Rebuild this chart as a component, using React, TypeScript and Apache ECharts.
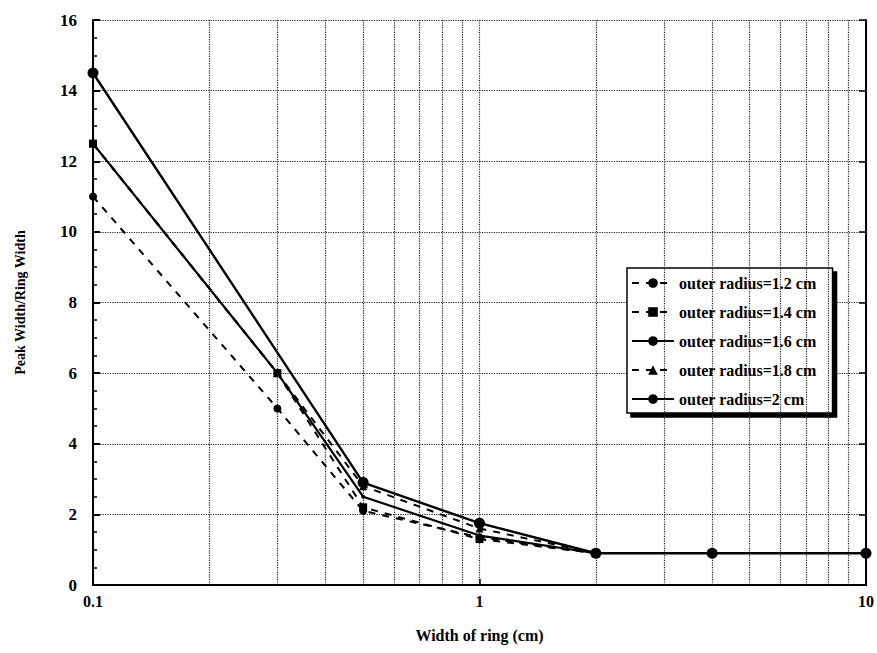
import React, { useEffect, useRef } from "react";
import * as echarts from "echarts";

const xTicks = [0.1, 1, 10];
const yMin = 0;
const yMax = 16;
const minorX = [0.2, 0.3, 0.4, 0.5, 0.6, 0.7, 0.8, 0.9, 2, 3, 4, 5, 6, 7, 8, 9];

const seriesNames = [
  "outer radius=1.2 cm",
  "outer radius=1.4 cm",
  "outer radius=1.6 cm",
  "outer radius=1.8 cm",
  "outer radius=2 cm",
];

const r12: [number, number][] = [[0.1, 11.0], [0.3, 5.0], [0.5, 2.1], [1, 1.35], [2, 0.9]];
const r14: [number, number][] = [[0.1, 12.5], [0.3, 6.0], [0.5, 2.2], [1, 1.3], [2, 0.9]];
const r16: [number, number][] = [[0.1, 12.5], [0.3, 6.0], [0.5, 2.5], [1, 1.4], [2, 0.9]];
const r18: [number, number][] = [[0.1, 12.5], [0.3, 6.0], [0.5, 2.8], [1, 1.6], [2, 0.9]];
const r20: [number, number][] = [[0.1, 14.5], [0.5, 2.9], [1, 1.75], [2, 0.9], [4, 0.9], [10, 0.9]];

const FONT = "'Liberation Serif', 'Times New Roman', serif";

export default function App() {
  const ref = useRef<HTMLDivElement>(null);
  useEffect(() => {
    document.body.style.margin = "0";
    if (!ref.current) return;
    const chart = echarts.init(ref.current, undefined, { renderer: "svg" });
    const lineBase = { type: "line", color: "#000", z: 5 };
    const option: any = {
      animation: false,
      backgroundColor: "#fff",
      grid: { left: 93, top: 20, width: 773, height: 565 },
      legend: {
        orient: "vertical",
        left: 627,
        top: 268,
        padding: [7, 16, 6, 4],
        itemWidth: 42,
        itemHeight: 12,
        itemGap: 13,
        backgroundColor: "#fff",
        borderColor: "#000",
        borderWidth: 1.5,
        shadowColor: "#000",
        shadowBlur: 0,
        shadowOffsetX: 4,
        shadowOffsetY: 4,
        textStyle: { fontFamily: FONT, fontWeight: "bold", fontSize: 16, color: "#000" },
        data: seriesNames,
      },
      xAxis: [
        {
          type: "log",
          logBase: 10,
          min: 0.1,
          max: 10,
          name: "Width of ring (cm)",
          nameLocation: "middle",
          nameGap: 42,
          nameTextStyle: { fontFamily: FONT, fontWeight: "bold", fontSize: 16, color: "#000" },
          axisLine: { show: true, lineStyle: { color: "#000", width: 2 } },
          axisTick: { show: true, inside: true, length: 6, lineStyle: { color: "#000", width: 1.5 } },
          axisLabel: {
            fontFamily: FONT,
            fontWeight: "bold",
            fontSize: 16,
            color: "#000",
            margin: 8,
            formatter: (v: number) => (xTicks.some((t) => Math.abs(t - v) < 1e-9) ? String(v) : ""),
          },
          splitLine: { show: true, lineStyle: { type: "dotted", color: "#222", width: 1.2 } },
        },
        {
          type: "log",
          logBase: 10,
          min: 0.1,
          max: 10,
          position: "top",
          axisLine: { show: true, lineStyle: { color: "#000", width: 2 } },
          axisTick: { show: false },
          axisLabel: { show: false },
          splitLine: { show: false },
        },
      ],
      yAxis: [
        {
          type: "value",
          min: yMin,
          max: yMax,
          interval: 2,
          name: "Peak Width/Ring Width",
          nameLocation: "middle",
          nameGap: 66,
          nameTextStyle: { fontFamily: FONT, fontWeight: "bold", fontSize: 14, color: "#000" },
          axisLine: { show: true, lineStyle: { color: "#000", width: 2 } },
          axisTick: { show: true, inside: true, length: 7, lineStyle: { color: "#000", width: 2 } },
          minorTick: { show: true, splitNumber: 4, length: 4, lineStyle: { color: "#000", width: 1.5 } },
          axisLabel: { fontFamily: FONT, fontWeight: "bold", fontSize: 17, color: "#000", margin: 16 },
          splitLine: { show: true, lineStyle: { type: "dotted", color: "#222", width: 1.2 } },
        },
        {
          type: "value",
          min: yMin,
          max: yMax,
          interval: 2,
          position: "right",
          axisLine: { show: true, lineStyle: { color: "#000", width: 2 } },
          axisTick: { show: true, inside: true, length: 7, lineStyle: { color: "#000", width: 1.5 } },
          axisLabel: { show: false },
          splitLine: { show: false },
        },
      ],
      series: [
        {
          name: "__grid",
          type: "line",
          data: [],
          silent: true,
          markLine: {
            silent: true,
            symbol: "none",
            label: { show: false },
            lineStyle: { type: "dotted", color: "#222", width: 1.2 },
            data: minorX.map((v) => ({ xAxis: v })),
          },
        },
        {
          ...lineBase,
          name: seriesNames[0],
          data: r12,
          symbol: "circle",
          symbolSize: 8,
          itemStyle: { color: "#000" },
          lineStyle: { color: "#000", width: 2, type: [7, 7] },
        },
        {
          ...lineBase,
          name: seriesNames[1],
          data: r14,
          symbol: "rect",
          symbolSize: 8,
          itemStyle: { color: "#000" },
          lineStyle: { color: "#000", width: 2, type: [7, 7] },
        },
        {
          ...lineBase,
          name: seriesNames[2],
          data: r16,
          symbol: "circle",
          symbolSize: 4,
          itemStyle: { color: "#000" },
          lineStyle: { color: "#000", width: 2.2 },
        },
        {
          ...lineBase,
          name: seriesNames[3],
          data: r18,
          symbol: "triangle",
          symbolSize: 8,
          itemStyle: { color: "#000" },
          lineStyle: { color: "#000", width: 2, type: [7, 7] },
        },
        {
          ...lineBase,
          name: seriesNames[4],
          data: r20,
          symbol: "circle",
          symbolSize: 11,
          itemStyle: { color: "#000" },
          lineStyle: { color: "#000", width: 2.4 },
        },
      ],
    };
    chart.setOption(option);
    return () => chart.dispose();
  }, []);
  return <div ref={ref} style={{ width: 877, height: 653 }} />;
}
